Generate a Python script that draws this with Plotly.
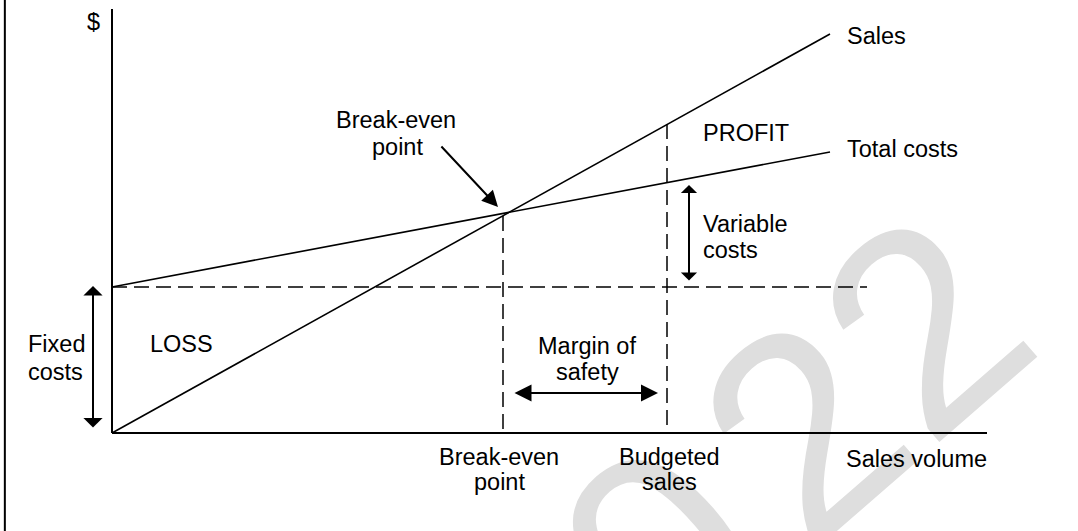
import base64
import plotly.graph_objects as go

FONT_FAMILY = 'Liberation Sans, Arial, sans-serif'
FONT_SIZE = 23.5

# ── Data (sales volume in units, money in $) ─────────────────────────────────
VOLUME = [0, 718]                 # start / end of the sales & cost lines
SALES = [0, 399]
TOTAL_COSTS = [146, 281]
FIXED_COSTS = 146
FIXED_LINE_END = 755
BREAK_EVEN_VOLUME = 391
BREAK_EVEN_SALES = 217
BUDGETED_VOLUME = 555
BUDGETED_SALES = 309
AXIS_X_END = 875
AXIS_Y_END = 424

# ── Labels: (text, x, y, xanchor) in data coordinates ────────────────────────
LABELS = [
    ('$', -19, 411, 'center'),
    ('Break-even', 284, 313, 'center'),
    ('point', 285, 286, 'center'),
    ('Sales', 733, 397, 'left'),
    ('PROFIT', 634, 300, 'center'),
    ('Total costs', 733, 284, 'left'),
    ('Variable', 589, 209, 'left'),
    ('costs', 589, 183, 'left'),
    ('Fixed', -86, 89, 'left'),
    ('costs', -86, 61, 'left'),
    ('LOSS', 36, 89, 'left'),
    ('Margin of', 475, 87, 'center'),
    ('safety', 475, 61, 'center'),
    ('Break-even', 387, -24, 'center'),
    ('point', 387, -49, 'center'),
    ('Budgeted', 557, -24, 'center'),
    ('sales', 557, -49, 'center'),
    ('Sales volume', 732, -26, 'left'),
]

BLACK = '#000000'
DASH = '15px,7px'

fig = go.Figure()


def add_line(x, y, width=1.6, dash=None):
    fig.add_trace(go.Scatter(
        x=x, y=y, mode='lines',
        line=dict(color=BLACK, width=width, dash=dash),
        hoverinfo='skip', showlegend=False,
    ))


# axes drawn as lines
add_line([0, AXIS_X_END], [0, 0], width=2)
add_line([0, 0], [0, AXIS_Y_END], width=2)

# dashed guides
add_line([0, FIXED_LINE_END], [FIXED_COSTS, FIXED_COSTS], width=1.5, dash=DASH)
add_line([BREAK_EVEN_VOLUME, BREAK_EVEN_VOLUME], [BREAK_EVEN_SALES, 0], width=1.5, dash=DASH)
add_line([BUDGETED_VOLUME, BUDGETED_VOLUME], [BUDGETED_SALES, 0], width=1.5, dash=DASH)

# sales and total costs
add_line(VOLUME, SALES)
add_line(VOLUME, TOTAL_COSTS)

annotations = []
for text, x, y, anchor in LABELS:
    annotations.append(dict(
        x=x, y=y, xref='x', yref='y', text=text, showarrow=False,
        xanchor=anchor, yanchor='middle',
        font=dict(family=FONT_FAMILY, size=FONT_SIZE, color=BLACK),
    ))


def arrow(x0, y0, x1, y1, head, size, both=False):
    d = dict(
        x=x1, y=y1, ax=x0, ay=y0,
        xref='x', yref='y', axref='x', ayref='y',
        text='', showarrow=True,
        arrowhead=head, arrowsize=size, arrowwidth=2, arrowcolor=BLACK,
    )
    if both:
        d.update(arrowside='end+start', startarrowhead=head, startarrowsize=size)
    return d


annotations += [
    arrow(-19, 4, -19, 147, 1, 1.6, both=True),         # fixed costs
    arrow(577, 151, 577, 248, 1, 1.35, both=True),      # variable costs
    arrow(401, 40, 546, 40, 2, 1.7, both=True),         # margin of safety
    arrow(328, 288, 386, 226, 2, 1.6),                  # break-even pointer
]

# light watermark behind the drawing
X0, Y0 = 547, 783
svg = (
    '<svg xmlns="http://www.w3.org/2000/svg" width="1078" height="531" '
    'viewBox="0 0 1078 531">'
    f'<text x="{X0}" y="{Y0}" transform="rotate(-41 {X0} {Y0})" '
    'font-family="Liberation Sans, Arial, sans-serif" font-size="285" '
    'fill="#dedede">20<tspan dx="30">22</tspan></text></svg>'
)
watermark = 'data:image/svg+xml;base64,' + base64.b64encode(svg.encode()).decode()

fig.update_layout(
    width=1078, height=531,
    margin=dict(l=0, r=0, t=0, b=0),
    paper_bgcolor='white',
    plot_bgcolor='rgba(0,0,0,0)',
    showlegend=False,
    xaxis=dict(range=[-112, 966], visible=False, fixedrange=True),
    yaxis=dict(range=[-98, 433], visible=False, fixedrange=True),
    annotations=annotations,
    images=[dict(
        source=watermark, xref='paper', yref='paper',
        x=0, y=1, sizex=1, sizey=1, xanchor='left', yanchor='top',
        sizing='stretch', layer='below',
    )],
    shapes=[dict(
        type='line', xref='paper', yref='paper',
        x0=0.0045, x1=0.0045, y0=0, y1=1,
        line=dict(color=BLACK, width=2),
    )],
)

# page body has a default 8px margin; drop it so the figure fills the window
fig.write_html(
    'out.html',
    config={'displayModeBar': False},
    post_script="document.body.style.margin='0';",
)
